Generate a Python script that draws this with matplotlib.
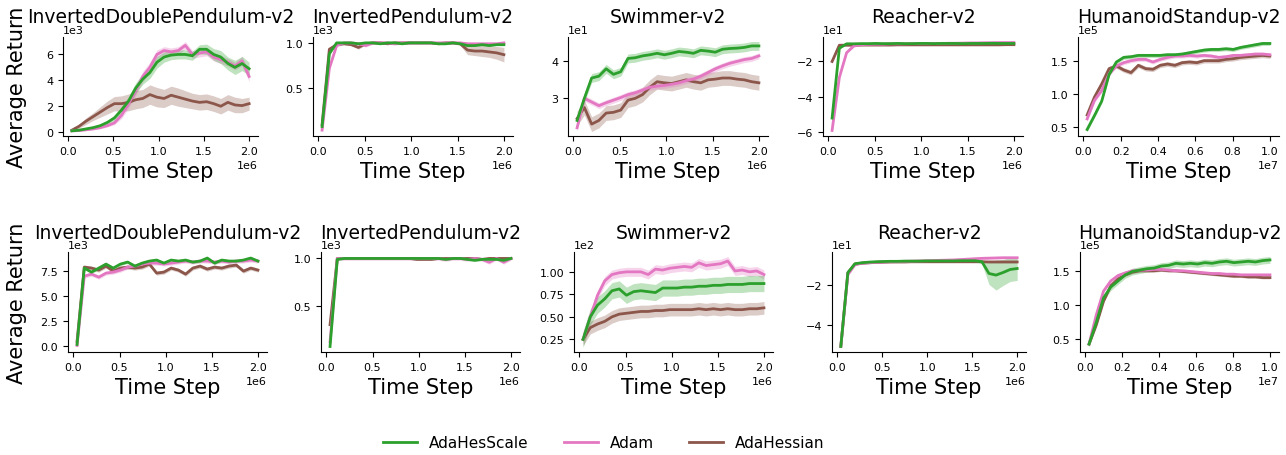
import matplotlib.pyplot as plt
import numpy as np
from matplotlib.lines import Line2D

W, H = 1286, 456

plt.rcParams['font.family'] = ['DejaVu Sans']
plt.rcParams['xtick.labelsize'] = 8
plt.rcParams['ytick.labelsize'] = 8

# evaluation steps
steps_2m = np.linspace(0.04e6, 2.0e6, 26)
steps_10m = np.linspace(0.02e7, 1.0e7, 26)

envs = ["InvertedDoublePendulum-v2", "InvertedPendulum-v2", "Swimmer-v2",
        "Reacher-v2", "HumanoidStandup-v2"]
methods = ["AdaHesScale", "Adam", "AdaHessian"]
colors = ["#2ca02c", "#e377c2", "#8c564b"]

# ---- row 1 ----
# InvertedDoublePendulum (x1e3)
idp1_hes = [0.1, 0.15, 0.25, 0.35, 0.5, 0.75, 1.1, 1.7, 2.4, 3.4, 4.1, 4.6, 5.4,
            5.8, 5.95, 6.0, 6.0, 5.9, 6.4, 6.4, 6.0, 5.8, 5.3, 5.0, 5.3, 4.9]
idp1_adam = [0.1, 0.12, 0.18, 0.25, 0.35, 0.5, 0.72, 1.3, 2.2, 3.2, 4.3, 5.0, 6.0,
             6.3, 6.2, 6.3, 6.7, 6.0, 6.1, 6.2, 5.8, 5.6, 5.4, 5.1, 5.5, 4.3]
idp1_ahs = [0.15, 0.45, 0.85, 1.2, 1.55, 1.9, 2.2, 2.2, 2.3, 2.5, 2.6, 2.9, 2.7,
            2.6, 2.85, 2.7, 2.55, 2.4, 2.3, 2.35, 2.2, 2.0, 2.3, 2.1, 2.05, 2.2]
idp1_hes_sd = [0.05, 0.05, 0.05, 0.08, 0.1, 0.15, 0.2, 0.3, 0.35, 0.4, 0.4, 0.45, 0.45,
               0.4, 0.35, 0.35, 0.35, 0.35, 0.35, 0.4, 0.45, 0.5, 0.5, 0.55, 0.55, 0.5]
idp1_adam_sd = [0.05, 0.05, 0.05, 0.08, 0.1, 0.1, 0.15, 0.25, 0.35, 0.4, 0.4, 0.4, 0.35,
                0.3, 0.3, 0.3, 0.3, 0.3, 0.3, 0.3, 0.3, 0.3, 0.3, 0.3, 0.35, 0.4]
idp1_ahs_sd = [0.05, 0.15, 0.25, 0.3, 0.4, 0.5, 0.55, 0.6, 0.65, 0.7, 0.7, 0.75, 0.75,
               0.7, 0.7, 0.7, 0.65, 0.6, 0.6, 0.6, 0.6, 0.6, 0.6, 0.6, 0.55, 0.5]

# InvertedPendulum (x1e3)
ip1_hes = [0.08, 0.88, 1.0, 1.0, 1.0, 0.99, 1.0, 1.0, 0.99, 1.0, 1.0, 0.99, 1.0,
           1.0, 1.0, 1.0, 0.99, 0.99, 1.0, 0.99, 0.97, 0.97, 0.98, 0.97, 0.98, 0.98]
ip1_adam = [0.04, 0.72, 0.97, 1.0, 1.0, 0.99, 0.97, 1.0, 1.0, 1.0, 0.99, 1.0, 1.0,
            1.0, 1.0, 1.0, 1.0, 1.0, 1.0, 1.0, 0.99, 0.99, 0.99, 0.99, 0.99, 1.0]
ip1_ahs = [0.1, 0.93, 0.98, 0.99, 0.98, 0.95, 0.99, 1.0, 1.0, 0.99, 1.0, 1.0, 1.0,
           1.0, 1.0, 1.0, 0.99, 1.0, 1.0, 0.99, 0.92, 0.91, 0.91, 0.9, 0.89, 0.87]
ip1_ahs_sd = [0.01, 0.01, 0.01, 0.01, 0.01, 0.02, 0.01, 0.01, 0.01, 0.01, 0.01, 0.01, 0.01,
              0.01, 0.01, 0.01, 0.01, 0.01, 0.01, 0.02, 0.05, 0.05, 0.06, 0.06, 0.07, 0.08]

# Swimmer (x1e1)
sw1_hes = [2.4, 3.0, 3.55, 3.6, 3.8, 3.65, 3.72, 4.08, 4.1, 4.15, 4.18, 4.22, 4.18,
           4.22, 4.27, 4.25, 4.22, 4.3, 4.28, 4.25, 4.33, 4.35, 4.36, 4.38, 4.42, 4.42]
sw1_adam = [2.2, 3.0, 2.9, 2.8, 2.88, 2.95, 3.02, 3.1, 3.15, 3.22, 3.3, 3.33, 3.35,
            3.38, 3.42, 3.48, 3.52, 3.6, 3.7, 3.8, 3.88, 3.95, 4.0, 4.05, 4.08, 4.15]
sw1_ahs = [2.45, 2.75, 2.3, 2.4, 2.6, 2.62, 2.68, 2.95, 3.0, 3.1, 3.3, 3.45, 3.42,
           3.4, 3.45, 3.5, 3.45, 3.42, 3.5, 3.52, 3.55, 3.55, 3.52, 3.5, 3.45, 3.42]

# Reacher (x1e1)
re1_hes = [-5.2, -1.25, -1.0, -1.0, -0.99, -0.99, -0.98, -0.99, -0.99, -0.98, -0.99, -0.99, -0.98,
           -0.98, -0.99, -0.98, -0.98, -0.98, -0.99, -0.98, -0.98, -0.98, -0.97, -0.98, -0.98, -0.98]
re1_adam = [-5.9, -2.9, -1.5, -1.12, -1.05, -1.03, -1.02, -1.02, -1.0, -1.0, -1.0, -0.99, -0.99,
            -0.99, -0.98, -0.98, -0.97, -0.97, -0.96, -0.95, -0.95, -0.94, -0.94, -0.93, -0.93, -0.93]
re1_ahs = [-2.0, -1.08, -1.08, -1.08, -1.07, -1.07, -1.07, -1.07, -1.07, -1.06, -1.06, -1.06, -1.06,
           -1.06, -1.06, -1.06, -1.06, -1.06, -1.06, -1.06, -1.06, -1.06, -1.06, -1.06, -1.05, -1.05]

# HumanoidStandup (x1e5)
hu1_hes = [0.46, 0.67, 0.89, 1.29, 1.48, 1.55, 1.56, 1.58, 1.58, 1.58, 1.58, 1.59, 1.59,
           1.6, 1.62, 1.64, 1.66, 1.67, 1.67, 1.68, 1.67, 1.7, 1.72, 1.74, 1.76, 1.76]
hu1_adam = [0.62, 0.9, 1.05, 1.3, 1.42, 1.47, 1.5, 1.52, 1.52, 1.48, 1.52, 1.55, 1.57,
            1.57, 1.58, 1.57, 1.58, 1.57, 1.55, 1.56, 1.58, 1.58, 1.59, 1.6, 1.6, 1.59]
hu1_ahs = [0.68, 0.95, 1.15, 1.38, 1.42, 1.36, 1.32, 1.43, 1.38, 1.37, 1.43, 1.45, 1.43,
           1.47, 1.48, 1.47, 1.5, 1.5, 1.5, 1.52, 1.53, 1.55, 1.56, 1.57, 1.58, 1.57]

# ---- row 2 ----
idp2_hes = [0.2, 7.8, 7.4, 7.8, 8.2, 7.8, 8.2, 8.4, 8.0, 8.3, 8.5, 8.6, 8.3,
            8.6, 8.5, 8.6, 8.4, 8.5, 8.8, 8.3, 8.6, 8.5, 8.5, 8.6, 8.8, 8.5]
idp2_adam = [0.1, 7.0, 7.2, 6.9, 7.3, 7.4, 7.6, 7.9, 8.0, 8.2, 8.3, 8.3, 8.2,
             8.3, 8.4, 8.5, 8.4, 8.5, 8.5, 8.4, 8.5, 8.4, 8.5, 8.5, 8.6, 8.5]
idp2_ahs = [0.5, 7.9, 7.8, 7.6, 8.0, 7.5, 7.8, 7.9, 7.8, 7.9, 8.2, 7.3, 7.4,
            7.8, 7.6, 7.2, 7.8, 8.0, 7.7, 7.9, 7.8, 8.0, 8.1, 7.5, 7.8, 7.6]

ip2_hes = [0.07, 0.99, 1.0, 1.0, 1.0, 1.0, 1.0, 1.0, 1.0, 1.0, 1.0, 1.0, 1.0,
           1.0, 1.0, 1.0, 0.99, 1.0, 1.0, 0.99, 0.98, 0.99, 0.99, 0.99, 0.98, 1.0]
ip2_adam = [0.12, 1.0, 1.0, 1.0, 1.0, 1.0, 1.0, 1.0, 1.0, 1.0, 1.0, 1.0, 1.0,
            1.0, 1.0, 1.0, 0.99, 1.0, 1.0, 0.99, 1.0, 0.99, 0.96, 1.0, 0.96, 1.0]
ip2_ahs = [0.3, 1.0, 1.0, 1.0, 1.0, 1.0, 1.0, 1.0, 1.0, 1.0, 1.0, 1.0, 0.99,
           0.99, 0.99, 1.0, 1.0, 1.0, 1.0, 1.0, 1.0, 0.99, 1.0, 1.0, 1.0, 1.0]

sw2_hes = [0.25, 0.5, 0.63, 0.7, 0.79, 0.81, 0.74, 0.78, 0.79, 0.78, 0.77, 0.82, 0.82,
           0.82, 0.83, 0.83, 0.84, 0.84, 0.85, 0.85, 0.86, 0.86, 0.86, 0.87, 0.87, 0.87]
sw2_adam = [0.25, 0.5, 0.74, 0.9, 0.97, 0.99, 1.0, 1.0, 1.0, 0.97, 1.03, 1.02, 1.04,
            1.05, 1.06, 1.05, 1.1, 1.07, 1.08, 1.09, 1.12, 1.01, 1.02, 1.0, 1.01, 0.97]
sw2_ahs = [0.25, 0.38, 0.42, 0.45, 0.5, 0.53, 0.54, 0.55, 0.56, 0.56, 0.57, 0.57, 0.58,
           0.58, 0.58, 0.58, 0.59, 0.58, 0.59, 0.58, 0.59, 0.58, 0.58, 0.59, 0.59, 0.6]

re2_hes = [-5.1, -1.4, -0.95, -0.9, -0.87, -0.85, -0.84, -0.83, -0.83, -0.82, -0.82, -0.82, -0.81,
           -0.81, -0.81, -0.81, -0.81, -0.8, -0.8, -0.8, -0.85, -1.44, -1.52, -1.39, -1.24, -1.19]
re2_adam = [-5.1, -1.5, -1.0, -0.92, -0.9, -0.88, -0.86, -0.85, -0.84, -0.83, -0.82, -0.81, -0.8,
            -0.79, -0.78, -0.77, -0.76, -0.74, -0.72, -0.7, -0.68, -0.67, -0.66, -0.65, -0.65, -0.65]
re2_ahs = [-5.1, -1.4, -0.97, -0.92, -0.9, -0.88, -0.87, -0.86, -0.86, -0.86, -0.85, -0.85, -0.85,
           -0.85, -0.85, -0.85, -0.85, -0.85, -0.85, -0.85, -0.85, -0.86, -0.86, -0.86, -0.86, -0.86]
re2_hes_sd = [0.05, 0.05, 0.05, 0.05, 0.05, 0.05, 0.05, 0.05, 0.05, 0.05, 0.05, 0.05, 0.05,
              0.05, 0.05, 0.05, 0.05, 0.05, 0.05, 0.05, 0.1, 0.55, 0.75, 0.65, 0.6, 0.6]

hu2_hes = [0.42, 0.74, 1.1, 1.26, 1.35, 1.44, 1.49, 1.51, 1.53, 1.54, 1.57, 1.58, 1.61,
           1.6, 1.61, 1.6, 1.62, 1.61, 1.63, 1.64, 1.62, 1.63, 1.64, 1.63, 1.65, 1.66]
hu2_adam = [0.42, 0.85, 1.2, 1.35, 1.43, 1.47, 1.5, 1.51, 1.51, 1.52, 1.52, 1.51, 1.5,
            1.5, 1.49, 1.48, 1.47, 1.46, 1.46, 1.45, 1.45, 1.44, 1.44, 1.44, 1.44, 1.44]
hu2_ahs = [0.42, 0.7, 1.05, 1.28, 1.38, 1.44, 1.48, 1.5, 1.5, 1.5, 1.51, 1.5, 1.5,
           1.49, 1.48, 1.47, 1.46, 1.45, 1.44, 1.43, 1.42, 1.42, 1.41, 1.41, 1.4, 1.4]

xt_2m = [0, 0.5e6, 1.0e6, 1.5e6, 2.0e6]
xt_10m = [0, 0.2e7, 0.4e7, 0.6e7, 0.8e7, 1.0e7]

# (steps, scale, means, stds, yticks)
panels = [
    [
        (steps_2m, 1e3, [idp1_hes, idp1_adam, idp1_ahs], [idp1_hes_sd, idp1_adam_sd, idp1_ahs_sd], [0, 2000, 4000, 6000]),
        (steps_2m, 1e3, [ip1_hes, ip1_adam, ip1_ahs], [0.01, 0.015, ip1_ahs_sd], [500, 1000]),
        (steps_2m, 1e1, [sw1_hes, sw1_adam, sw1_ahs], [0.12, 0.08, 0.2], [30, 40]),
        (steps_2m, 1e1, [re1_hes, re1_adam, re1_ahs], [0.04, 0.06, 0.04], [-60, -40, -20]),
        (steps_10m, 1e5, [hu1_hes, hu1_adam, hu1_ahs], [0.03, 0.03, 0.035], [50000, 100000, 150000]),
    ],
    [
        (steps_2m, 1e3, [idp2_hes, idp2_adam, idp2_ahs], [0.15, 0.2, 0.2], [0, 2500, 5000, 7500]),
        (steps_2m, 1e3, [ip2_hes, ip2_adam, ip2_ahs], [0.01, 0.02, 0.01], [500, 1000]),
        (steps_2m, 1e2, [sw2_hes, sw2_adam, sw2_ahs], [0.09, 0.05, 0.07], [25, 50, 75, 100]),
        (steps_2m, 1e1, [re2_hes, re2_adam, re2_ahs], [re2_hes_sd, 0.05, 0.05], [-40, -20]),
        (steps_10m, 1e5, [hu2_hes, hu2_adam, hu2_ahs], [0.05, 0.02, 0.02], [50000, 100000, 150000]),
    ],
]

# axes boxes in pixels: (left, right), per row with (top, bottom)
col_px = [
    [(63, 258), (313, 513), (568, 768), (823, 1023), (1078, 1279)],
    [(68, 267), (321, 520), (574, 773), (832, 1026), (1080, 1279)],
]
row_px = [(38, 137), (253, 353)]

fig = plt.figure(figsize=(W / 100, H / 100), dpi=100)

for r in range(2):
    top, bot = row_px[r]
    for c in range(5):
        l, rr = col_px[r][c]
        ax = fig.add_axes([l / W, 1 - bot / H, (rr - l) / W, (bot - top) / H])
        steps, scale, means, sds, yt = panels[r][c]
        for k in [2, 1, 0]:
            m = np.asarray(means[k]) * scale
            s = np.asarray(sds[k]) * scale
            ax.fill_between(steps, m - s, m + s, color=colors[k], alpha=0.3, lw=0)
            ax.plot(steps, m, color=colors[k], lw=2)
        ax.set_yticks(yt)
        ax.set_xticks(xt_10m if steps is steps_10m else xt_2m)
        ax.ticklabel_format(style='sci', scilimits=(0, 0), useOffset=False)
        ax.spines[['top', 'right']].set_visible(False)
        ax.set_title(envs[c], fontsize=13.5, y=1.0, pad=11 if r == 0 else 10)
        ax.set_xlabel("Time Step", fontsize=15)
    fig.text(17 / W, 1 - (top + bot) / 2 / H, "Average Return", rotation=90,
             fontsize=15, ha='center', va='center')

handles = [Line2D([], [], color=c, lw=2) for c in colors]
fig.legend(handles, methods, loc='center', bbox_to_anchor=(604 / W, 1 - 444 / H),
           ncol=3, frameon=False, fontsize=11, handlelength=2.2, columnspacing=2.3)

fig.savefig("out.png", dpi=100)
